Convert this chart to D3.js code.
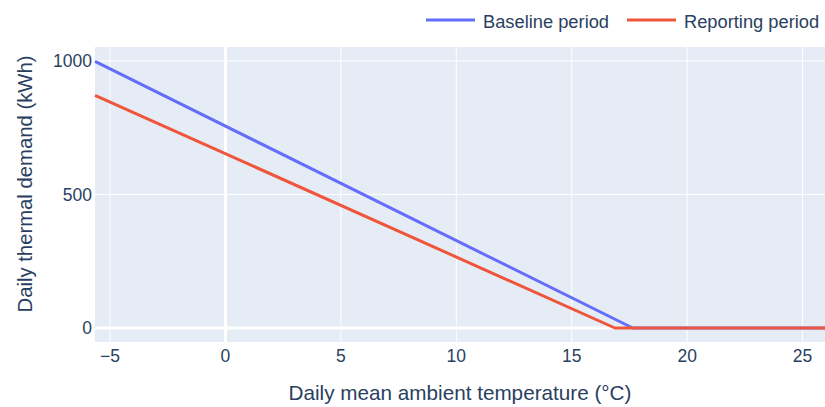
<!DOCTYPE html>
<html><head><meta charset="utf-8">
<script src="https://cdn.jsdelivr.net/npm/d3@7"></script>
<style>body{margin:0;background:#fff}svg{display:block}text{font-family:"Liberation Sans",Arial,sans-serif;fill:#2a3f5f}</style>
</head><body>
<script>
const seriesNames = ["Baseline period", "Reporting period"];
const seriesColors = ["#636efa", "#EF553B"];
const baselineX = [-5.65, 17.64, 25.97];
const baselineY = [998, 0, 0];
const reportingX = [-5.65, 16.87, 25.97];
const reportingY = [871, 0, 0];
const xTicks = [-5, 0, 5, 10, 15, 20, 25];
const yTicks = [0, 500, 1000];

const W = 825, H = 407;
const m = {l: 95, r: 0, t: 47, b: 65};
const svg = d3.select("body").append("svg").attr("width", W).attr("height", H);
const x = d3.scaleLinear().domain([-5.65, 25.97]).range([m.l, W - m.r]);
const y = d3.scaleLinear().domain([-52.4, 1052]).range([H - m.b, m.t]);

svg.append("rect").attr("x", m.l).attr("y", m.t).attr("width", W - m.r - m.l).attr("height", H - m.b - m.t).attr("fill", "#E5ECF6");

const gx = svg.append("g");
xTicks.forEach(t => {
  gx.append("line").attr("x1", x(t)).attr("x2", x(t)).attr("y1", m.t).attr("y2", H - m.b)
    .attr("stroke", "#fff").attr("stroke-width", t === 0 ? 3 : 1);
  gx.append("text").attr("x", x(t)).attr("y", 362).attr("text-anchor", "middle")
    .attr("font-size", 17.5).text(t < 0 ? "\u2212" + Math.abs(t) : t);
});
yTicks.forEach(t => {
  gx.append("line").attr("x1", m.l).attr("x2", W - m.r).attr("y1", y(t)).attr("y2", y(t))
    .attr("stroke", "#fff").attr("stroke-width", t === 0 ? 3 : 1);
  gx.append("text").attr("x", m.l - 3).attr("y", y(t)).attr("dy", "0.36em").attr("text-anchor", "end")
    .attr("font-size", 17.5).text(t);
});

const line = d3.line().x(d => x(d[0])).y(d => y(d[1]));
const data = [d3.zip(baselineX, baselineY), d3.zip(reportingX, reportingY)];
data.forEach((d, i) => {
  svg.append("path").datum(d).attr("d", line).attr("fill", "none")
    .attr("stroke", seriesColors[i]).attr("stroke-width", 3).attr("stroke-linejoin", "round");
});

svg.append("text").attr("x", (m.l + W - m.r) / 2).attr("y", 400).attr("text-anchor", "middle")
  .attr("font-size", 20.7).text("Daily mean ambient temperature (°C)");
svg.append("text").attr("transform", `translate(32,184) rotate(-90)`).attr("text-anchor", "middle")
  .attr("font-size", 20.3).text("Daily thermal demand (kWh)");

const legX = [426, 627];
seriesNames.forEach((n, i) => {
  svg.append("line").attr("x1", legX[i]).attr("x2", legX[i] + 49).attr("y1", 20).attr("y2", 20)
    .attr("stroke", seriesColors[i]).attr("stroke-width", 3);
  svg.append("text").attr("x", legX[i] + 57).attr("y", 27.5).attr("font-size", 18.3).text(n);
});
</script>
</body></html>
